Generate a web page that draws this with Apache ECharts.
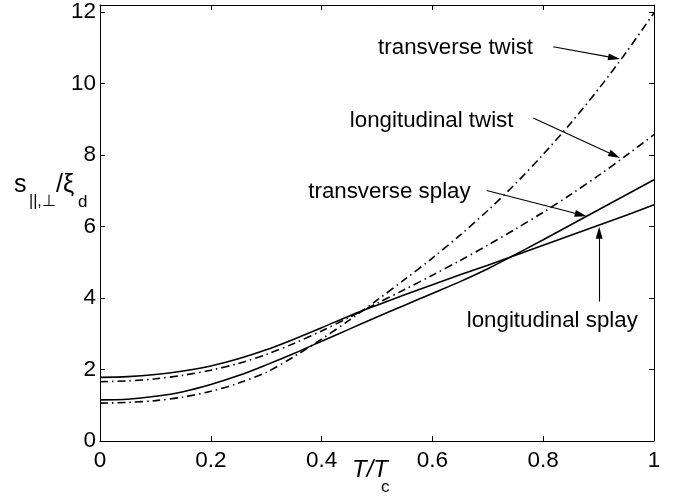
<!DOCTYPE html>
<html>
<head>
<meta charset="utf-8">
<script src="https://cdn.jsdelivr.net/npm/echarts@6/dist/echarts.min.js"></script>
<style>
  html, body { margin: 0; padding: 0; background: #fff; }
  #chart { width: 676px; height: 497px; }
</style>
</head>
<body>
<div id="chart"></div>
<script>
// Reduced temperature T/Tc
const tValues = [0, 0.05, 0.1, 0.15, 0.2, 0.25, 0.3, 0.35, 0.4, 0.45, 0.5,
                 0.55, 0.6, 0.65, 0.7, 0.75, 0.8, 0.85, 0.9, 0.95, 1.0];

// Penetration depths s (in units of xi_d) for the four distortion modes
const transverseTwist   = [1.06, 1.08, 1.13, 1.23, 1.39, 1.62, 1.92, 2.36, 2.85, 3.38, 3.94,
                           4.52, 5.12, 5.76, 6.45, 7.20, 8.02, 8.90, 9.85, 10.88, 11.98];
const longitudinalTwist = [1.66, 1.68, 1.74, 1.84, 1.98, 2.17, 2.42, 2.73, 3.08, 3.46, 3.85,
                           4.24, 4.64, 5.05, 5.48, 5.93, 6.40, 6.90, 7.43, 7.99, 8.57];
const transverseSplay   = [1.15, 1.17, 1.25, 1.38, 1.58, 1.83, 2.13, 2.45, 2.79, 3.13, 3.47,
                           3.80, 4.13, 4.46, 4.82, 5.22, 5.63, 6.05, 6.47, 6.89, 7.31];
const longitudinalSplay = [1.78, 1.80, 1.86, 1.96, 2.10, 2.30, 2.55, 2.85, 3.17, 3.50, 3.80,
                           4.09, 4.37, 4.65, 4.92, 5.20, 5.48, 5.76, 6.04, 6.32, 6.61];

// Tick labels
const xTicks = ['0', '0.2', '0.4', '0.6', '0.8', '1'];
const yTicks = ['0', '2', '4', '6', '8', '10', '12'];

// Annotation text with the data-space anchor of the label and its arrow
const notes = [
  { text: 'transverse twist',   label: [0.502, 10.99], from: [0.818, 11.03], to: [0.928, 10.72] },
  { text: 'longitudinal twist', label: [0.451, 8.97],  from: [0.782, 9.04],  to: [0.929, 7.99] },
  { text: 'transverse splay',   label: [0.376, 6.96],  from: [0.698, 7.01],  to: [0.868, 6.33] },
  { text: 'longitudinal splay', label: [0.662, 3.37],  from: [0.901, 3.90],  to: [0.901, 5.83] }
];

const FONT = '"Liberation Sans", Arial, Helvetica, sans-serif';
const DASH_DOT = [8, 4, 1.5, 4];

function pairs(ys) {
  return tValues.map((t, i) => [t, ys[i]]);
}

const chart = echarts.init(document.getElementById('chart'), null, { renderer: 'canvas' });

const baseAxis = {
  axisLine: { show: true, onZero: false, lineStyle: { color: '#000', width: 1 } },
  axisTick: { show: true, inside: true, length: 5, lineStyle: { color: '#000', width: 1 } },
  splitLine: { show: false },
  axisLabel: { color: '#000', fontFamily: FONT, fontSize: 22.5 }
};

function xAxis(position, showLabels) {
  return Object.assign({}, baseAxis, {
    type: 'value', position: position, min: 0, max: 1, interval: 0.2,
    axisLabel: Object.assign({}, baseAxis.axisLabel, {
      show: showLabels, margin: 8,
      formatter: v => xTicks[Math.round(v / 0.2)]
    })
  });
}

function yAxis(position, showLabels) {
  return Object.assign({}, baseAxis, {
    type: 'value', position: position, min: 0, max: 12.2, interval: 2,
    axisLabel: Object.assign({}, baseAxis.axisLabel, {
      show: showLabels, margin: 4, showMaxLabel: false,
      formatter: v => {
        const k = Math.round(v / 2);
        return Math.abs(v - 2 * k) < 1e-6 ? yTicks[k] : '';
      }
    })
  });
}

function curve(name, ys, dashed) {
  return {
    name: name, type: 'line', xAxisIndex: 0, yAxisIndex: 0,
    data: pairs(ys), smooth: 0.3, symbol: 'none', silent: true,
    lineStyle: { color: '#000', width: 1.6, type: dashed ? DASH_DOT : 'solid' }
  };
}

const series = [
  curve('transverse twist', transverseTwist, true),
  curve('longitudinal twist', longitudinalTwist, true),
  curve('transverse splay', transverseSplay, false),
  curve('longitudinal splay', longitudinalSplay, false)
];

// Labels and arrows live on a helper series without data
series.push({
  type: 'line', xAxisIndex: 0, yAxisIndex: 0, data: [], silent: true,
  markPoint: {
    silent: true, symbol: 'circle', symbolSize: 0,
    data: notes.map(n => ({
      coord: n.label,
      label: {
        show: true, position: 'right', distance: 0, formatter: n.text,
        color: '#000', fontFamily: FONT, fontSize: 22.3
      }
    }))
  },
  markLine: {
    silent: true, animation: false,
    symbol: ['none', 'triangle'], symbolSize: [7, 12],
    label: { show: false },
    lineStyle: { color: '#000', width: 1.1, type: 'solid' },
    data: notes.map(n => [{ coord: n.from }, { coord: n.to }])
  }
});

const option = {
  animation: false,
  backgroundColor: '#fff',
  grid: { left: 100, right: 22, top: 5, bottom: 56, containLabel: false },
  xAxis: [xAxis('bottom', true), xAxis('top', false)],
  yAxis: [yAxis('left', true), yAxis('right', false)],
  series: series,
  graphic: [
    // y-axis title: s_{||,⊥}/ξ_d
    { type: 'text', x: 14, y: 185, style: { text: 's', font: '25px ' + FONT, fill: '#000', textVerticalAlign: 'middle' } },
    { type: 'text', x: 29, y: 202, style: { text: '||,⊥', font: '16px ' + FONT, fill: '#000', textVerticalAlign: 'middle' } },
    { type: 'text', x: 56, y: 185, style: { text: '/ξ', font: '25px ' + FONT, fill: '#000', textVerticalAlign: 'middle' } },
    { type: 'text', x: 78, y: 202, style: { text: 'd', font: '17px ' + FONT, fill: '#000', textVerticalAlign: 'middle' } },
    // x-axis title: T/T_c
    { type: 'text', x: 352, y: 470, style: { text: 'T/T', font: 'italic 24px ' + FONT, fill: '#000', textVerticalAlign: 'middle' } },
    { type: 'text', x: 381, y: 487, style: { text: 'c', font: '17px ' + FONT, fill: '#000', textVerticalAlign: 'middle' } }
  ]
};

chart.setOption(option);
</script>
</body>
</html>
